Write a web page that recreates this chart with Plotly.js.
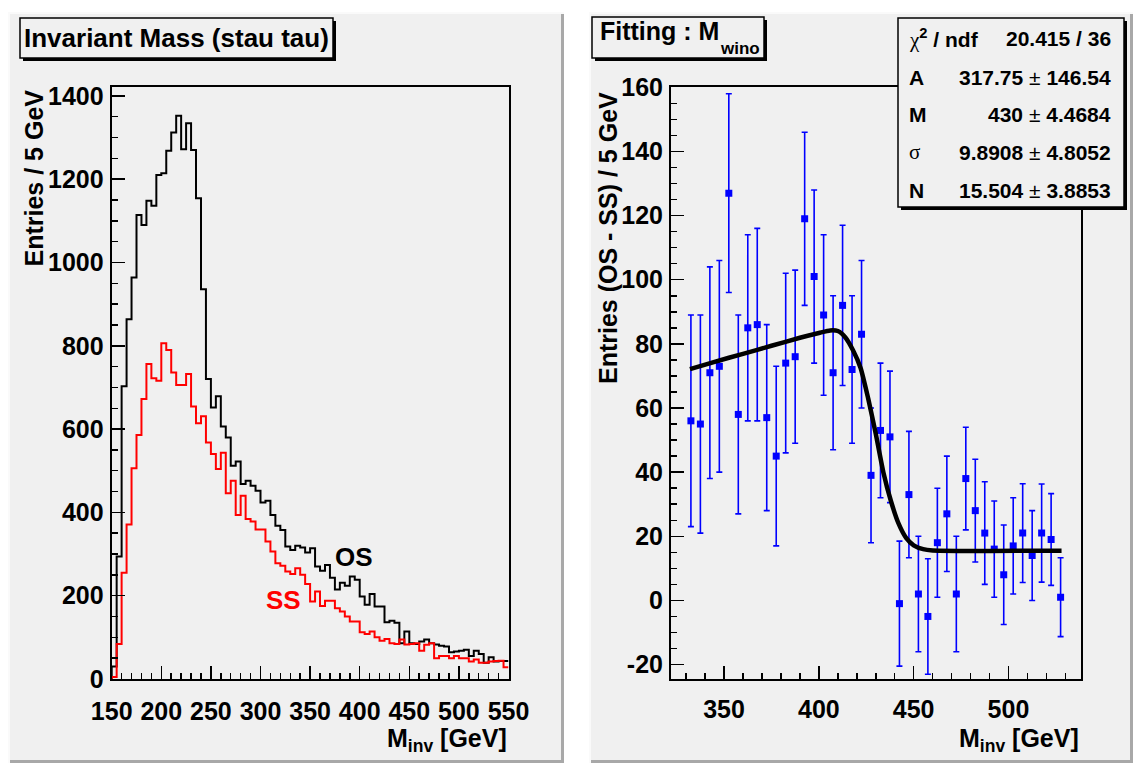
<!DOCTYPE html>
<html>
<head>
<meta charset="utf-8">
<script src="https://cdn.plot.ly/plotly-3.0.1.min.js"></script>
<style>html,body{margin:0;padding:0;background:#fff;}#chart{width:1134px;height:767px;}</style>
</head>
<body>
<div id="chart"></div>
<script>
// ---------- data ----------
// Left pad: invariant mass histograms, 5 GeV bins from 150 to 550 GeV
const massBinLow = 150;
const massBinWidth = 5;
const osCounts = [30,294,703,864,964,1114,1090,1148,1136,1210,1214,1268,1312,1352,1272,1334,1270,1154,936,720,
  652,679,606,580,512,522,468,476,464,452,424,428,394,368,358,318,310,320,316,304,
  314,270,260,274,243,215,231,224,246,238,198,178,204,174,174,136,140,135,86,114,
  86,84,90,95,86,83,80,78,64,66,68,70,55,68,60,39,52,42,43,43];
const ssCounts = [5,84,255,371,506,586,672,756,722,716,806,790,736,706,706,732,654,614,631,568,
  540,504,543,446,476,394,440,384,378,359,359,330,306,278,272,258,252,266,250,228,
  186,210,175,188,188,170,162,150,138,138,112,108,114,100,92,96,86,84,95,83,
  84,86,68,82,86,50,55,55,50,55,50,50,42,47,39,39,42,43,44,28];

// Right pad: OS - SS difference, 5 GeV bins starting at 330 GeV
const diffBinLow = 330;
const diffBinWidth = 5;
const diffValues = [56,55,71,73,127,58,85,86,57,45,74,76,119,101,89,71,92,72,83,39,
  53,51,-1,33,2,-5,18,27,2,38,28,21,16,8,17,21,14,21,19,1];
const diffErrors = [33,34,33,33,31,31,29,30,29,28,28,27,27,27,25,24,25,23,23,21,
  21,20.5,19.5,19.7,18,18,17,18,18,16,16,16,15,15.5,15,15.4,14,15.3,14.3,12.3];

// Fit curve
const fitX = [332,345,360,375,390,400,406,410,414,418,422,426,430,434,438,442,446,450,455,460,528];
const fitY = [72.1,74.4,76.9,79.4,81.9,83.4,84.2,84.0,82.0,78.0,72.5,63,52,40,31,24,19.5,17.2,16,15.6,15.5];

// Tick labels of the right y axis (ROOT prints a plain hyphen)
const diffTickVals = [-20, 0, 20, 40, 60, 80, 100, 120, 140, 160];
const diffTickText = ['-20', '0', '20', '40', '60', '80', '100', '120', '140', '160'];

// Fit statistics
const statLabels = ['χ<sup>2</sup> / ndf','A','M','σ','N'];
const statValues = ['20.415 / 36','317.75 ± 146.54','430 ± 4.4684','9.8908 ± 4.8052','15.504 ± 3.8853'];

// ---------- helpers ----------
const W = 1134, H = 767;
const px = X => X / W;
const py = Y => 1 - Y / H;
const FONT = 'Liberation Sans, Arial, Helvetica, sans-serif';

function stepXY(low, width, counts) {
  const xs = [low], ys = [0];
  counts.forEach((c, i) => { xs.push(low + i * width); ys.push(c); });
  xs.push(low + counts.length * width); ys.push(counts[counts.length - 1]);
  return {xs, ys};
}
const osStep = stepXY(massBinLow, massBinWidth, osCounts);
const ssStep = stepXY(massBinLow, massBinWidth, ssCounts);
const diffX = diffValues.map((v, i) => diffBinLow + diffBinWidth * (i + 0.5));

const traces = [
  {x: osStep.xs, y: osStep.ys, type: 'scatter', mode: 'lines', line: {shape: 'hv', color: '#000', width: 2}, xaxis: 'x', yaxis: 'y', hoverinfo: 'skip'},
  {x: ssStep.xs, y: ssStep.ys, type: 'scatter', mode: 'lines', line: {shape: 'hv', color: '#ff0000', width: 2}, xaxis: 'x', yaxis: 'y', hoverinfo: 'skip'},
  {x: diffX, y: diffValues, type: 'scatter', mode: 'markers', marker: {symbol: 'square', size: 7, color: '#0000ff'},
   error_y: {type: 'data', array: diffErrors, visible: true, color: '#0000ff', thickness: 1.6, width: 3},
   xaxis: 'x2', yaxis: 'y2', hoverinfo: 'skip'},
  {x: fitX, y: fitY, type: 'scatter', mode: 'lines', line: {shape: 'spline', smoothing: 0.6, color: '#000', width: 4.5}, xaxis: 'x2', yaxis: 'y2', hoverinfo: 'skip'}
];

const tickFont = {family: FONT, size: 25, color: '#000', weight: 'bold'};
const axBase = {showline: true, linewidth: 2, linecolor: '#000', mirror: true, showgrid: false, zeroline: false,
  ticks: 'inside', ticklen: 13, tickwidth: 1.5, tickcolor: '#000', tickfont: tickFont, fixedrange: true};
const minorX = {dtick: 10, ticklen: 6, ticks: 'inside', tickcolor: '#000', tickwidth: 1.5};

const yTop = 87.3, yBot = 679;
const layout = {
  width: W, height: H,
  margin: {l: 0, r: 0, t: 0, b: 0},
  paper_bgcolor: '#ffffff',
  plot_bgcolor: 'rgba(0,0,0,0)',
  showlegend: false,
  xaxis: Object.assign({}, axBase, {domain: [px(111.7), px(508.5)], range: [150, 550], tick0: 150, dtick: 50, anchor: 'y',
    ticklabelstandoff: 9, minor: minorX}),
  yaxis: Object.assign({}, axBase, {domain: [py(yBot), py(yTop)], range: [0, 1420.6], tick0: 0, dtick: 200, anchor: 'x',
    ticklabelstandoff: 1, minor: {dtick: 50, ticklen: 6, ticks: 'inside', tickcolor: '#000', tickwidth: 1.5}}),
  xaxis2: Object.assign({}, axBase, {domain: [px(671), px(1080.7)], range: [322, 538.1], tick0: 350, dtick: 50, anchor: 'y2',
    ticklabelstandoff: 7, minor: minorX}),
  yaxis2: Object.assign({}, axBase, {domain: [py(yBot), py(yTop)], range: [-24.5, 160], anchor: 'x2',
    tickmode: 'array', tickvals: diffTickVals, ticktext: diffTickText, ticklabelstandoff: 1,
    minor: {tickmode: 'linear', tick0: 0, dtick: 5, ticklen: 6, ticks: 'inside', tickcolor: '#000', tickwidth: 1.5}}),
  shapes: [],
  annotations: []
};

const S = layout.shapes, A = layout.annotations;
// pads
function pad(x0, x1, y0, y1) {
  S.push({type: 'rect', xref: 'paper', yref: 'paper', x0: px(x0), x1: px(x1), y0: py(y1), y1: py(y0), fillcolor: '#f0f0f0', line: {width: 0}, layer: 'below'});
  S.push({type: 'line', xref: 'paper', yref: 'paper', x0: px(x1 - 1.5), x1: px(x1 - 1.5), y0: py(y1), y1: py(y0), line: {color: '#a8a8a8', width: 3}, layer: 'below'});
  S.push({type: 'line', xref: 'paper', yref: 'paper', x0: px(x0), x1: px(x1), y0: py(y1 - 1.5), y1: py(y1 - 1.5), line: {color: '#a8a8a8', width: 3}, layer: 'below'});
  S.push({type: 'line', xref: 'paper', yref: 'paper', x0: px(x0 + 1), x1: px(x0 + 1), y0: py(y1), y1: py(y0), line: {color: '#fafafa', width: 2}, layer: 'below'});
  S.push({type: 'line', xref: 'paper', yref: 'paper', x0: px(x0), x1: px(x1), y0: py(y0 + 1), y1: py(y0 + 1), line: {color: '#fafafa', width: 2}, layer: 'below'});
}
pad(8, 564, 12, 763);
pad(589, 1133, 12, 763);

// box with drop shadow
function box(x0, x1, y0, y1) {
  S.push({type: 'rect', xref: 'paper', yref: 'paper', x0: px(x0 + 3), x1: px(x1 + 3), y0: py(y1 + 3), y1: py(y0 + 3), fillcolor: '#000', line: {width: 0}, layer: 'above'});
  S.push({type: 'rect', xref: 'paper', yref: 'paper', x0: px(x0), x1: px(x1), y0: py(y1), y1: py(y0), fillcolor: '#f0f0f0', line: {color: '#000', width: 1.5}, layer: 'above'});
}
box(20, 333, 18, 58);
box(592, 764, 17, 58);
box(898, 1124, 18, 207);

function txt(text, X, Y, opts) {
  A.push(Object.assign({text: text, xref: 'paper', yref: 'paper', x: px(X), y: py(Y), showarrow: false,
    xanchor: 'center', yanchor: 'middle', font: {family: FONT, size: 25, color: '#000', weight: 'bold'}}, opts || {}));
}
// pad titles
txt('Invariant Mass (stau tau)', 176.5, 38, {font: {family: FONT, size: 26, color: '#000', weight: 'bold'}});
txt('Fitting : M', 598, 31, {xanchor: 'left', font: {family: FONT, size: 25, color: '#000', weight: 'bold'}});
txt('wino', 718, 48, {xanchor: 'left', font: {family: FONT, size: 17, color: '#000', weight: 'bold'}});
// axis titles
txt('Entries / 5 GeV', 33, 88, {textangle: -90, yanchor: 'top', font: {family: FONT, size: 25, color: '#000', weight: 'bold'}});
txt('Entries (OS - SS) / 5 GeV', 608, 90, {textangle: -90, yanchor: 'top', font: {family: FONT, size: 25, color: '#000', weight: 'bold'}});
txt('M<sub>inv</sub> [GeV]', 509, 740, {xanchor: 'right', font: {family: FONT, size: 25, color: '#000', weight: 'bold'}});
txt('M<sub>inv</sub> [GeV]', 1081, 740, {xanchor: 'right', font: {family: FONT, size: 25, color: '#000', weight: 'bold'}});
// OS / SS labels
txt('OS', 354, 557, {font: {family: FONT, size: 26, color: '#000', weight: 'bold'}});
txt('SS', 283, 600, {font: {family: FONT, size: 26, color: '#ff0000', weight: 'bold'}});
// stats
const rowY = [38, 78, 115, 152, 190];
statLabels.forEach((lab, i) => {
  let t = lab;
  if (lab.indexOf('χ') === 0) t = '<span style="font-family:\'Liberation Serif\';font-weight:normal">χ</span>' + lab.slice(1);
  if (lab === 'σ') t = '<span style="font-family:\'Liberation Serif\';font-weight:normal">σ</span>';
  txt(t, 907, rowY[i], {xanchor: 'left', font: {family: FONT, size: 21, color: '#000', weight: 'bold'}});
});
statValues.forEach((v, i) => {
  const t = v.replace('±', '<span style="font-weight:normal">±</span>');
  txt(t, 1113, rowY[i], {xanchor: 'right', font: {family: FONT, size: 21, color: '#000', weight: 'bold'}});
});

Plotly.newPlot('chart', traces, layout, {staticPlot: true, displayModeBar: false});
</script>
</body>
</html>
